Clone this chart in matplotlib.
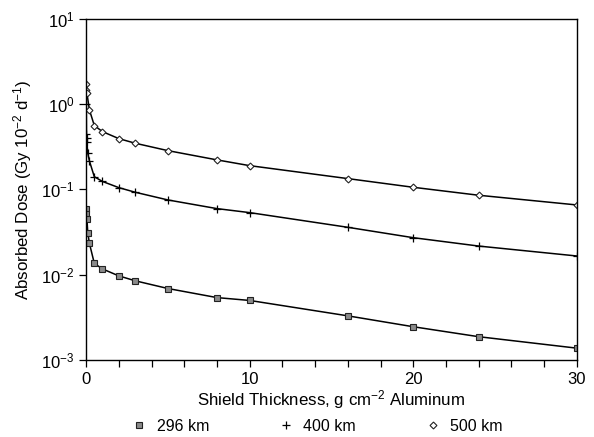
import matplotlib
matplotlib.use("Agg")
import matplotlib.pyplot as plt
from matplotlib.lines import Line2D
from matplotlib.ticker import MultipleLocator, LogLocator, NullLocator

matplotlib.rcParams.update({'font.family': 'Liberation Sans', 'font.size': 11,
                            'mathtext.default': 'regular'})

# shield thickness (g cm^-2 Al) and dose (Gy 10^-2 d^-1)
x_296 = [0.01, 0.02, 0.05, 0.1, 0.2, 0.5, 1, 2, 3, 5, 8, 10, 16, 20, 24, 30]
dose_296 = [0.0586, 0.0512, 0.0451, 0.0311, 0.0234, 0.0136, 0.0117, 0.0097,
            0.0085, 0.0069, 0.0054, 0.0050, 0.0033, 0.00246, 0.00188, 0.00138]

x_400 = [0.01, 0.02, 0.03, 0.05, 0.1, 0.2, 0.5, 1, 2, 3, 5, 8, 10, 16, 20, 24, 30]
dose_400 = [1.0, 0.45, 0.40, 0.355, 0.266, 0.216, 0.141, 0.124, 0.105, 0.0927,
            0.0753, 0.0596, 0.0535, 0.036, 0.0272, 0.0217, 0.0166]

x_500 = [0.01, 0.02, 0.05, 0.2, 0.5, 1, 2, 3, 5, 8, 10, 16, 20, 24, 30]
dose_500 = [1.73, 1.47, 1.34, 0.857, 0.561, 0.476, 0.394, 0.348, 0.285, 0.222,
            0.19, 0.134, 0.106, 0.0855, 0.0658]

sq = dict(marker='s', markersize=4.5, markerfacecolor='#8a8a8a',
          markeredgecolor='#222222', markeredgewidth=0.8)
pl = dict(marker='+', markersize=6, markeredgewidth=0.9, color='black')
dm = dict(marker='D', markersize=3.5, markerfacecolor='white',
          markeredgecolor='#222222', markeredgewidth=0.8)

fig = plt.figure(figsize=(5.94, 4.37), dpi=100)
ax = fig.add_axes([0.145, 0.176, 0.826, 0.781])

ax.plot(x_296, dose_296, color='black', linewidth=1.1, **sq)
ax.plot(x_400, dose_400, linewidth=1.1, **pl)
ax.plot(x_500, dose_500, color='black', linewidth=1.1, **dm)

ax.set_yscale('log')
ax.set_xlim(0, 30)
ax.set_ylim(1e-3, 1e1)
ax.yaxis.set_major_locator(LogLocator(base=10, numticks=10))
ax.yaxis.set_minor_locator(NullLocator())
ax.xaxis.set_major_locator(MultipleLocator(10))
ax.xaxis.set_minor_locator(MultipleLocator(2))
ax.tick_params(axis='both', which='both', direction='out', top=False, right=False)
ax.tick_params(axis='both', which='major', length=5, width=0.9, labelsize=12)
ax.tick_params(axis='x', which='minor', length=5, width=0.9)
for s in ax.spines.values():
    s.set_linewidth(1.0)

ax.set_xlabel('Shield Thickness, g cm$^{-2}$ Aluminum', fontsize=12.2, labelpad=1)
ax.set_ylabel('Absorbed Dose (Gy 10$^{-2}$ d$^{-1}$)', fontsize=12.2, labelpad=5)

handles = [Line2D([], [], linestyle='none', **sq),
           Line2D([], [], linestyle='none', **pl),
           Line2D([], [], linestyle='none', **dm)]
fig.legend(handles, ['296 km', '400 km', '500 km'], loc='lower center',
           bbox_to_anchor=(0.535, -0.025), ncol=3, frameon=False, fontsize=11.5,
           columnspacing=4.4, handlelength=0.8, handletextpad=0.7)

fig.savefig('out.png', dpi=100)
